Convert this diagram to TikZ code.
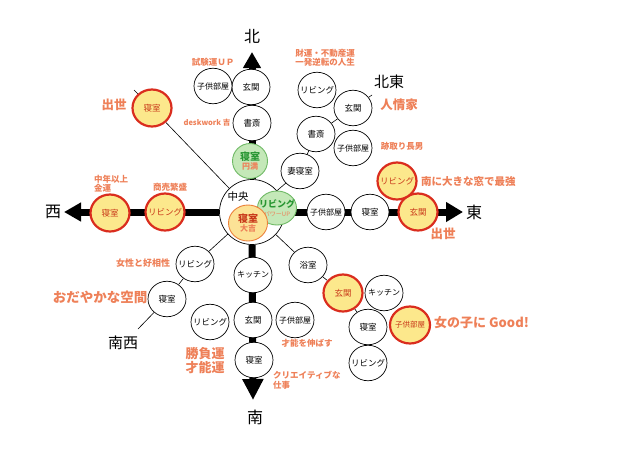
\documentclass[tikz,border=0pt]{standalone}
\usepackage{fontspec}
\setmainfont{Noto Sans CJK JP}
\usetikzlibrary{shapes.geometric,arrows.meta,backgrounds}
\definecolor{lbl}{RGB}{238,128,88}
\definecolor{redb}{RGB}{218,45,30}
\definecolor{redt}{RGB}{200,55,25}
\definecolor{yel}{RGB}{252,232,140}
\definecolor{yelc}{RGB}{252,226,150}
\definecolor{orab}{RGB}{236,130,60}
\definecolor{grf}{RGB}{196,232,184}
\definecolor{grb}{RGB}{110,185,100}
\definecolor{grt}{RGB}{40,150,50}
\newcommand{\fs}[1]{\fontsize{#1}{#1}\selectfont}
\newcommand{\zb}[1]{\makebox[0pt]{#1}}
\begin{document}
\begin{tikzpicture}[x=1pt,y=-1pt,font=\fs{8.5},
  room/.style={ellipse,draw=black,line width=0.7pt,fill=white,minimum width=38pt,minimum height=35.5pt,inner sep=0pt,align=center},
  redroom/.style={room,draw=redb,line width=2.2pt,fill=yel,text=redt,minimum width=39pt,minimum height=37pt},
  greenroom/.style={room,draw=grb,line width=0.9pt,fill=grf,text=grt,minimum width=35pt,minimum height=35pt},
  yelroom/.style={room,draw=orab,line width=0.9pt,fill=yelc,text=redt,minimum width=39pt,minimum height=36pt},
  dirlbl/.style={font=\fs{16}},
  note/.style={text=lbl,font=\fs{8.5}\bfseries,inner sep=0pt},
  bignote/.style={text=lbl,font=\fs{12.5}\bfseries,inner sep=0pt},
  axis/.style={line width=7pt},
  thin/.style={line width=0.6pt}]
\useasboundingbox (0,0) rectangle (640,456);

% centre
\node[circle,draw=black,line width=0.7pt,fill=white,minimum size=65pt,inner sep=0pt] (c) at (252,212) {};
\node[font=\fs{10.5},inner sep=0pt] (ct) at (238,197) {中央};
\node[greenroom,minimum width=39pt,minimum height=34pt] (cg) at (277,208) {\zb{\fs{9}\bfseries リビング}\\[1pt]\zb{\fs{6}\color{lbl}パワーUP}};
\node[yelroom] (cy) at (248,223) {\zb{\fs{10}\bfseries 寝室}\\[1pt]\zb{\fs{8}\bfseries\color{lbl}大吉}};

% north
\node[greenroom] (n3) at (250,161) {\zb{\fs{10}\bfseries 寝室}\\[1pt]\zb{\fs{8}\bfseries\color{lbl}円満}};
\node[room] (n2) at (252,123) {\zb{書斎}};
\node[room] (n1) at (251,87) {\zb{玄関}};
\node[room,font=\fs{8}] (nk) at (213,86) {\zb{子供部屋}};
\coordinate (nTip) at (252,52);

% north-east
\node[room] (ne1) at (300,171) {\zb{妻寝室}};
\node[room] (ne2) at (316,134) {\zb{書斎}};
\node[room] (ne3) at (353,108) {\zb{玄関}};
\node[room,font=\fs{8}] (ne4) at (353,148) {\zb{子供部屋}};
\node[room] (ne5) at (317,90) {\zb{リビング}};
\coordinate (neEnd) at (372,95);

% east
\node[room,font=\fs{8}] (e1) at (326,212) {\zb{子供部屋}};
\node[room] (e2) at (370,212) {\zb{寝室}};
\node[redroom] (e3) at (418,212) {\zb{玄関}};
\node[redroom] (ne0) at (397,181) {\zb{リビング}};
\coordinate (eTip) at (463,212);

% west
\node[redroom] (w1) at (165,212) {\zb{リビング}};
\node[redroom] (w2) at (110,213) {\zb{寝室}};
\coordinate (wTip) at (64,212);

% north-west
\node[redroom] (nw) at (152,108) {\zb{寝室}};
\coordinate (nwEnd) at (134,90);

% south-west
\node[room] (sw1) at (195,264) {\zb{リビング}};
\node[room] (sw2) at (167,299) {\zb{寝室}};
\coordinate (swEnd) at (138,329);

% south
\node[room,font=\fs{8}] (s1) at (253,275) {\zb{キッチン}};
\node[room] (s2) at (253,320) {\zb{玄関}};
\node[room] (s3) at (254,360) {\zb{寝室}};
\node[room] (sl) at (210,322) {\zb{リビング}};
\node[room,font=\fs{8}] (sr) at (295,320) {\zb{子供部屋}};
\coordinate (sTip) at (253,400);

% south-east
\node[room] (se1) at (308,265) {\zb{浴室}};
\node[redroom] (se2) at (343,293) {\zb{玄関}};
\node[room,font=\fs{8}] (se3) at (384,293) {\zb{キッチン}};
\node[room] (se4) at (368,327) {\zb{寝室}};
\node[redroom,font=\fs{7.5},minimum width=40pt] (se5) at (410,325) {\zb{子供部屋}};
\node[room] (se6) at (368,363) {\zb{リビング}};

% direction labels
\node[dirlbl] (lN) at (252,36) {北};
\node[dirlbl] (lS) at (255,417) {南};
\node[dirlbl] (lW) at (53,212) {西};
\node[dirlbl] (lE) at (474,212) {東};
\node[dirlbl,font=\fs{15}] (lNE) at (389,82) {北東};
\node[dirlbl,font=\fs{15}] (lSW) at (123,343) {南西};

% notes
\node[note] (t1) at (213,62) {試験運ＵＰ};
\node[note,align=center] (t2) at (325,58) {財運・不動産運\\[1pt]一発逆転の人生};
\node[bignote] (t3) at (399,105) {人情家};
\node[note] (t4) at (402,146) {跡取り長男};
\node[note,font=\fs{10.5}\bfseries,anchor=west] (t5) at (421,182) {南に大きな窓で最強};
\node[bignote] (t6) at (443,234) {出世};
\node[bignote] (t7) at (114,105) {出世};
\node[note,font=\fs{7.5}\bfseries] (t8) at (207,123) {deskwork 吉};
\node[note,align=left,anchor=west] (t9) at (94,183.5) {中年以上\\[1pt]金運};
\node[note] (t10) at (170,187) {商売繁盛};
\node[note,font=\fs{9}\bfseries] (t11) at (143,263) {女性と好相性};
\node[bignote,font=\fs{13.5}\bfseries] (t12) at (100,297) {おだやかな空間};
\node[bignote,font=\fs{13}\bfseries,align=center] (t13) at (205,361) {勝負運\\[1pt]才能運};
\node[note] (t14) at (307,343) {才能を伸ばす};
\node[note,align=left,anchor=west] (t15) at (273,380) {クリエイティブな\\[1pt]仕事};
\node[bignote,font=\fs{13}\bfseries,anchor=west] (t16) at (434,323) {女の子に Good!};

\begin{scope}[on background layer]
  \draw[axis,-{Triangle[width=17pt,length=16pt]}] (c) -- (nTip);
  \draw[axis,-{Triangle[width=19pt,length=17pt]}] (c) -- (eTip);
  \draw[axis,-{Triangle[width=18pt,length=17pt]}] (c) -- (wTip);
  \draw[axis,-{Triangle[width=20pt,length=21pt]}] (c) -- (sTip);
  \draw[thin] (c) -- (ne1) -- (ne2) -- (ne3) -- (neEnd);
  \draw[thin] (nwEnd) -- (nw) -- (c);
  \draw[thin] (c) -- (sw1) -- (sw2) -- (swEnd);
  \draw[thin] (c) -- (se1) -- (se2) -- (se4);
\end{scope}
\end{tikzpicture}
\end{document}
